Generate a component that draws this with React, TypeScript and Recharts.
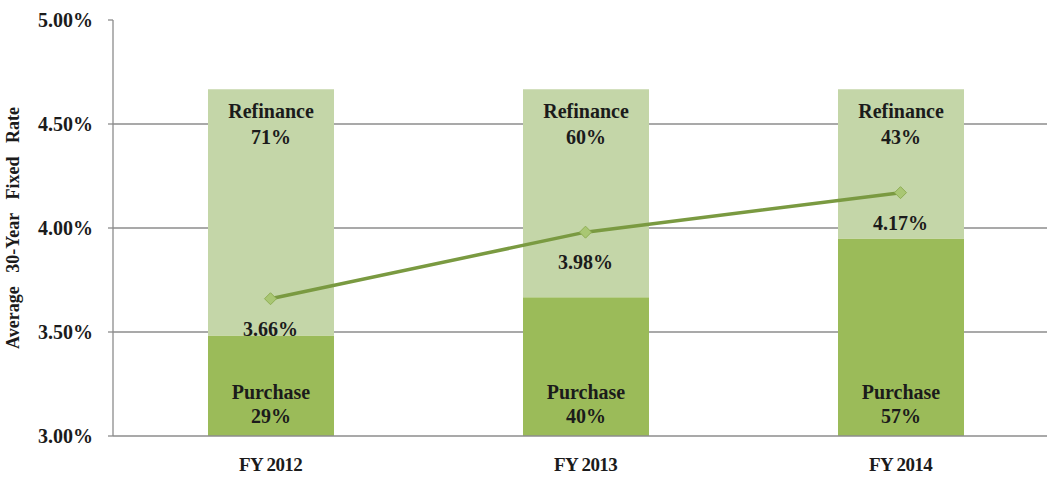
import { ComposedChart, Bar, Line, XAxis, YAxis, CartesianGrid, LabelList } from "recharts";

const years = ["FY 2012", "FY 2013", "FY 2014"];
const purchaseShare = [29, 40, 57];
const refinanceShare = [71, 60, 43];
const avgRate = [3.66, 3.98, 4.17];
const rateTicks = [3, 3.5, 4, 4.5, 5];

const data = years.map((year, i) => ({
  year,
  purchase: purchaseShare[i],
  refinance: refinanceShare[i],
  rate: avgRate[i],
}));

const FONT = "'Liberation Serif', 'Times New Roman', serif";
const TEXT = "#1b1b1b";

const labelStyle = { fontFamily: FONT, fontWeight: 700, fontSize: 20, fill: TEXT };

function RefinanceLabel(props: any) {
  const { x, y, width, value } = props;
  const cx = x + width / 2;
  return (
    <g>
      <text x={cx} y={y + 22} textAnchor="middle" dominantBaseline="central" style={labelStyle}>Refinance</text>
      <text x={cx} y={y + 48} textAnchor="middle" dominantBaseline="central" style={labelStyle}>{`${value}%`}</text>
    </g>
  );
}

function PurchaseLabel(props: any) {
  const { x, y, width, height, value } = props;
  const cx = x + width / 2;
  return (
    <g>
      <text x={cx} y={y + height - 44} textAnchor="middle" dominantBaseline="central" style={labelStyle}>Purchase</text>
      <text x={cx} y={y + height - 20} textAnchor="middle" dominantBaseline="central" style={labelStyle}>{`${value}%`}</text>
    </g>
  );
}

function RateLabel(props: any) {
  const { x, y, value } = props;
  return (
    <text x={x} y={y + 30} textAnchor="middle" dominantBaseline="central" style={labelStyle}>
      {`${Number(value).toFixed(2)}%`}
    </text>
  );
}

function Diamond(props: any) {
  const { cx, cy } = props;
  const r = 6;
  return (
    <path
      d={`M${cx},${cy - r} L${cx + r},${cy} L${cx},${cy + r} L${cx - r},${cy} Z`}
      fill="#a9c773"
      stroke="#8fae55"
      strokeWidth={1}
    />
  );
}

export default function App() {
  return (
    <div style={{ position: "absolute", left: 0, top: 0, width: 1047, height: 477, overflow: "hidden", background: "#fff" }}>
      <ComposedChart width={1047} height={477} data={data} margin={{ top: 20, right: -11, left: 0, bottom: 0 }}>
        <CartesianGrid vertical={false} horizontalValues={[3.5, 4, 4.5]} stroke="#8c8c8c" strokeWidth={1.3} />
        <XAxis
          dataKey="year"
          tickLine={false}
          tickSize={0}
          tickMargin={22}
          height={41}
          axisLine={{ stroke: "#8c8c8c", strokeWidth: 1.3 }}
          tick={{ fontFamily: FONT, fontWeight: 700, fontSize: 19, fill: TEXT, letterSpacing: -0.6 }}
        />
        <YAxis
          domain={[3, 5]}
          ticks={rateTicks}
          width={113}
          tickSize={5}
          tickMargin={15}
          tickFormatter={(v: number) => `${v.toFixed(2)}%`}
          axisLine={{ stroke: "#8c8c8c", strokeWidth: 1.3 }}
          tickLine={{ stroke: "#8c8c8c", strokeWidth: 1.3 }}
          tick={{ fontFamily: FONT, fontWeight: 700, fontSize: 20, fill: TEXT }}
          label={{
            value: "Average 30-Year Fixed Rate",
            angle: -90,
            position: "insideLeft",
            offset: 13,
            style: { fontFamily: FONT, fontWeight: 700, fontSize: 18, fill: TEXT, textAnchor: "middle", wordSpacing: 9 },
          }}
        />
        <YAxis yAxisId="pct" hide domain={[0, 120]} />
        <Bar yAxisId="pct" dataKey="purchase" stackId="a" fill="#9bbb59" barSize={126} isAnimationActive={false}>
          <LabelList dataKey="purchase" content={PurchaseLabel} />
        </Bar>
        <Bar yAxisId="pct" dataKey="refinance" stackId="a" fill="#c4d6a8" barSize={126} isAnimationActive={false}>
          <LabelList dataKey="refinance" content={RefinanceLabel} />
        </Bar>
        <Line
          dataKey="rate"
          stroke="#7a9a41"
          strokeWidth={3.5}
          dot={<Diamond />}
          activeDot={false}
          isAnimationActive={false}
        >
          <LabelList dataKey="rate" content={RateLabel} />
        </Line>
      </ComposedChart>
    </div>
  );
}
